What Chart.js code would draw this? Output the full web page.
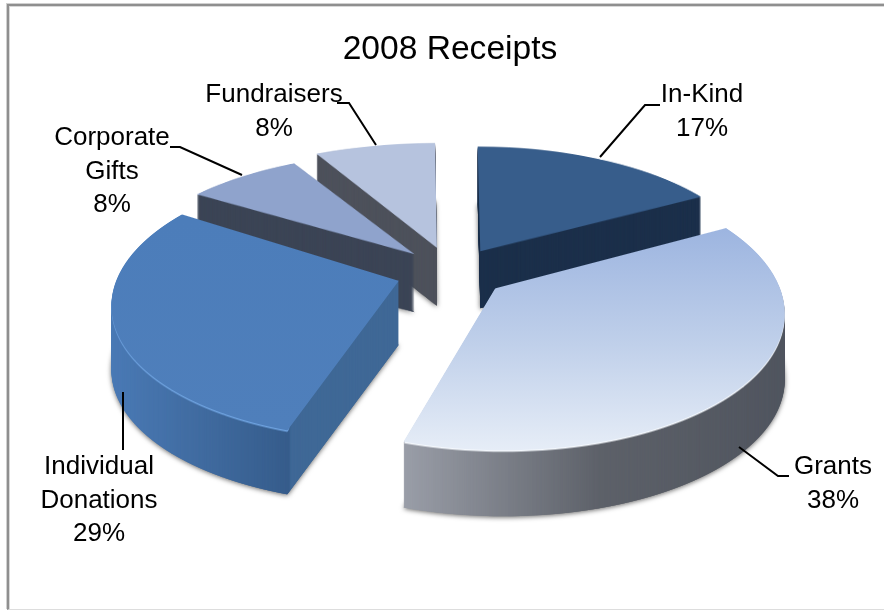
<html>
	<head>
		<title>2008 Receipts</title>
		<meta charset="utf-8" />
		<script src="https://cdn.jsdelivr.net/npm/chart.js@4"></script>
		<style>
			body { margin: 0; background: #fff; overflow: hidden; }
			#frame { position: absolute; left: 7px; top: 4px; width: 877px; height: 603px; border-top: 2px solid #8f8f8f; border-left: 2px solid #8f8f8f; border-bottom: 1px solid #ddd; box-shadow: -1px -1px 0 #d0d0d0, inset 1px 1px 0 #d8d8d8; }
			canvas { position: absolute; left: 0; top: 0; }
		</style>
	</head>
	<body>
		<canvas id="receipts" width="884" height="610"></canvas>
		<div id="frame"></div>
		<script>
			const categories = ['In-Kind', 'Grants', 'Individual Donations', 'Corporate Gifts', 'Fundraisers'];
			const receiptShares = [17, 38, 29, 8, 8];

			// explosion of each slice, in the units of the Chart.js arc offset
			const sliceOffsets = [220, 240, 220, 200, 200];
			// back to front
			const drawOrder = [4, 0, 3, 2, 1];

			// perspective of the pie plane, all screen pixels
			const W = 884, H = 610;
			const CENTER_X = 448, CENTER_Y = 270, HORIZON_Y = -600, VIEW_DEPTH = 1848;

			// per slice fitting of the 3D look
			const sliceRadius = [273, 260, 278, 265, 278];
			const sliceFlatten = [0.96, 1, 1, 0.9, 0.895];
			const sliceNudge = [[5, 3], [0, 0], [3, 2], [0, 1], [1, 0]];
			const wallDepth = [57, 66, 64, 58, 58];

			const faceStops = [
				[[145, '#375d8b'], [255, '#375d8b']],
				[[230, '#9db5e0'], [345, '#c0d0ea'], [450, '#e6edf7']],
				[[220, '#4c7dba'], [430, '#4f7fbb']],
				[[160, '#8fa3cc'], [255, '#8fa3cc']],
				[[145, '#b6c3de'], [250, '#b6c3de']]
			];
			const wallStops = [
				[[470, '#1b2f4a'], [700, '#1b2f4a']],
				[[403, '#9a9ea8'], [600, '#5d6169'], [784, '#50555f']],
				[[112, '#4a7ab5'], [289, '#365c8b'], [291, '#3f6896'], [400, '#3f6896']],
				[[199, '#3b4455'], [415, '#3b4455']],
				[[316, '#4d515b'], [440, '#4d515b']]
			];
			const rimStops = [
				null,
				[[403, 'rgba(244,248,253,0)'], [405, '#f4f8fd'], [790, '#f4f8fd']],
				[[100, '#6fa3e0'], [288, '#6fa3e0'], [290, 'rgba(111,163,224,0)'], [400, 'rgba(111,163,224,0)']],
				null,
				null
			];

			const labelCenters = [[702, 95], [833, 467], [99, 467], [112, 138], [274, 95]];
			const leaderLines = [
				[[600, 157], [645, 105], [660, 105]],
				[[739, 447], [778, 476], [789, 476]],
				[[123, 392], [123, 450]],
				[[242, 175], [180, 147], [170, 147]],
				[[376, 145], [349, 103], [337, 103]]
			];

			function newLayer() {
				const c = document.createElement('canvas');
				c.width = W;
				c.height = H;
				return c;
			}

			// the library's arc, drawn row by row through the perspective
			function faceMask(arc, i) {
				const layer = newLayer();
				const g = layer.getContext('2d');
				const piece = Object.create(arc);
				piece.options = Object.assign({}, arc.options, { backgroundColor: '#000', borderWidth: 0 });
				piece.outerRadius = sliceRadius[i];
				const span = CENTER_Y - HORIZON_Y;
				for (let y = 60; y < 540; y++) {
					const dist = y + 0.5 - HORIZON_Y;
					const s = dist / span;
					const worldY = VIEW_DEPTH * (1 - span / dist);
					const yScale = dist * dist / (VIEW_DEPTH * span);
					g.save();
					g.beginPath();
					g.rect(0, y, W, 1);
					g.clip();
					g.setTransform(s, 0, 0, yScale, CENTER_X - s * arc.x, y + 0.5 - yScale * (arc.y + worldY));
					piece.draw(g);
					g.restore();
				}
				// flatten around the tip of the slice, then nudge
				const mid = (arc.startAngle + arc.endAngle) / 2;
				const tipY = Math.sin(mid) * arc.options.offset / 4;
				const tipScreenY = HORIZON_Y + span / (1 - tipY / VIEW_DEPTH);
				const out = newLayer();
				const o = out.getContext('2d');
				o.setTransform(1, 0, 0, sliceFlatten[i], sliceNudge[i][0], tipScreenY * (1 - sliceFlatten[i]) + sliceNudge[i][1]);
				o.drawImage(layer, 0, 0);
				return out;
			}

			function tinted(mask, stops, vertical) {
				const layer = newLayer();
				const g = layer.getContext('2d');
				g.drawImage(mask, 0, 0);
				g.globalCompositeOperation = 'source-in';
				const first = stops[0][0], last = stops[stops.length - 1][0];
				const grad = vertical ? g.createLinearGradient(0, first, 0, last) : g.createLinearGradient(first, 0, last, 0);
				stops.forEach(st => grad.addColorStop((st[0] - first) / (last - first), st[1]));
				g.fillStyle = grad;
				g.fillRect(0, 0, W, H);
				return layer;
			}

			const pie3d = {
				id: 'pie3d',
				beforeDatasetDraw(chart, args) {
					const ctx = chart.ctx;
					drawOrder.forEach(i => {
						const arc = args.meta.data[i];
						const mask = faceMask(arc, i);
						const wall = tinted(mask, wallStops[i], false);
						ctx.save();
						ctx.shadowColor = 'rgba(0,0,0,0.6)';
						ctx.shadowBlur = 5;
						ctx.shadowOffsetY = 1;
						ctx.drawImage(wall, 0, wallDepth[i]);
						ctx.restore();
						for (let d = wallDepth[i]; d > 0; d--) {
							ctx.drawImage(wall, 0, d);
						}
						if (rimStops[i]) {
							ctx.drawImage(tinted(mask, rimStops[i], false), 0, 1.5);
						}
						ctx.drawImage(tinted(mask, faceStops[i], true), 0, 0);
					});
					return false;
				},
				afterDatasetsDraw(chart) {
					const ctx = chart.ctx;
					ctx.save();
					ctx.strokeStyle = '#000';
					ctx.lineWidth = 2;
					leaderLines.forEach(pts => {
						ctx.beginPath();
						pts.forEach((p, n) => n ? ctx.lineTo(p[0], p[1]) : ctx.moveTo(p[0], p[1]));
						ctx.stroke();
					});
					ctx.fillStyle = '#000';
					ctx.font = '26px "Liberation Sans"';
					ctx.textAlign = 'center';
					ctx.textBaseline = 'middle';
					categories.forEach((name, i) => {
						const lines = name === 'In-Kind' ? [name] : name.split(' ');
						lines.push(receiptShares[i] + '%');
						lines.forEach((txt, n) => ctx.fillText(txt, labelCenters[i][0], labelCenters[i][1] + n * 33.5));
					});
					ctx.restore();
				}
			};

			new Chart(document.getElementById('receipts'), {
				type: 'pie',
				data: {
					labels: categories,
					datasets: [{
						data: receiptShares,
						offset: sliceOffsets,
						borderWidth: 0,
						backgroundColor: '#375d8b'
					}]
				},
				options: {
					responsive: false,
					animation: false,
					layout: { padding: { left: 16 } },
					plugins: {
						legend: { display: false },
						tooltip: { enabled: false },
						title: {
							display: true,
							text: '2008 Receipts',
							color: '#000',
							font: { family: '"Liberation Sans"', size: 33.6, weight: 'normal' },
							padding: { top: 30, bottom: 10 }
						}
					}
				},
				plugins: [pie3d]
			});
		</script>
	</body>
</html>
